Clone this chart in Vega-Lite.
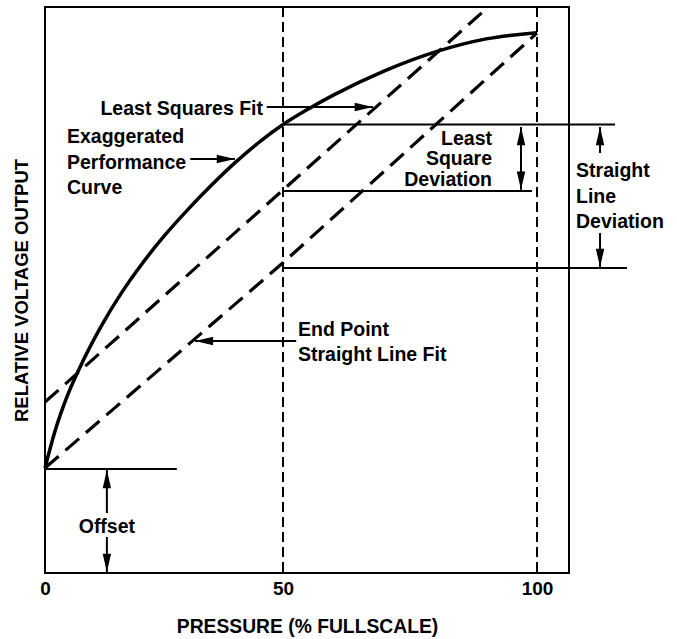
{
  "$schema": "https://vega.github.io/schema/vega-lite/v6.json",
  "width": 524,
  "height": 566,
  "autosize": {"type": "none"},
  "padding": {"left": 45, "top": 7, "right": 108, "bottom": 66},
  "background": "white",
  "config": {
    "view": {"stroke": "black", "strokeWidth": 2},
    "font": "Liberation Sans",
    "axis": {"grid": false, "ticks": false, "domain": false}
  },
  "datasets": {
    "curve": [
      {"x": 0, "y": 18.55}, {"x": 2, "y": 24.8}, {"x": 4, "y": 29.8},
      {"x": 8, "y": 37.5}, {"x": 12, "y": 43.9}, {"x": 16, "y": 49.4},
      {"x": 20, "y": 54.2}, {"x": 25, "y": 59.5}, {"x": 30, "y": 64.2},
      {"x": 35, "y": 68.54}, {"x": 40, "y": 72.54}, {"x": 45, "y": 76.12},
      {"x": 50, "y": 79.24}, {"x": 55, "y": 81.99}, {"x": 60, "y": 84.47},
      {"x": 70, "y": 88.72}, {"x": 80, "y": 92.07}, {"x": 90, "y": 94.37},
      {"x": 100, "y": 95.47}
    ],
    "fits": [
      {"fit": "End Point Straight Line Fit", "x": 0, "y": 18.55},
      {"fit": "End Point Straight Line Fit", "x": 50, "y": 54.8},
      {"fit": "End Point Straight Line Fit", "x": 100, "y": 95.4},
      {"fit": "Least Squares Fit", "x": 0, "y": 30.2},
      {"fit": "Least Squares Fit", "x": 50, "y": 67.67},
      {"fit": "Least Squares Fit", "x": 90.4, "y": 100}
    ],
    "verticals": [{"x": 50}, {"x": 100}],
    "segments": [
      {"x": 50, "y": 79.24, "x2": 124.4, "y2": 79.24},
      {"x": 50, "y": 67.49, "x2": 99.0, "y2": 67.49},
      {"x": 50, "y": 53.89, "x2": 128.1, "y2": 53.89},
      {"x": 0, "y": 18.37, "x2": 27.7, "y2": 18.37},
      {"x": 46.6, "y": 82.33, "x2": 67.7, "y2": 82.33},
      {"x": 30.5, "y": 73.14, "x2": 39.9, "y2": 73.14},
      {"x": 52.6, "y": 41.0, "x2": 31.5, "y2": 41.0},
      {"x": 96.85, "y": 78.8, "x2": 96.85, "y2": 67.7},
      {"x": 119.7, "y": 74.2, "x2": 119.7, "y2": 78.8},
      {"x": 119.7, "y": 60.07, "x2": 119.7, "y2": 54.06},
      {"x": 13, "y": 10.6, "x2": 13, "y2": 18.2},
      {"x": 13, "y": 6.36, "x2": 13, "y2": 0.18}
    ],
    "heads": [
      {"x": 67.7, "y": 82.33, "dir": "right"},
      {"x": 39.9, "y": 73.14, "dir": "right"},
      {"x": 31.5, "y": 41.0, "dir": "left"},
      {"x": 96.85, "y": 78.8, "dir": "up"},
      {"x": 96.85, "y": 67.7, "dir": "down"},
      {"x": 119.7, "y": 78.8, "dir": "up"},
      {"x": 119.7, "y": 54.06, "dir": "down"},
      {"x": 13, "y": 18.2, "dir": "up"},
      {"x": 13, "y": 0.18, "dir": "down"}
    ],
    "labelsLeft": [
      {"x": 4.62, "y": 77.03, "text": "Exaggerated"},
      {"x": 4.62, "y": 72.44, "text": "Performance"},
      {"x": 4.62, "y": 68.02, "text": "Curve"},
      {"x": 112.2, "y": 71.02, "text": "Straight"},
      {"x": 112.2, "y": 66.43, "text": "Line"},
      {"x": 112.2, "y": 62.01, "text": "Deviation"},
      {"x": 52.95, "y": 42.93, "text": "End Point"},
      {"x": 52.95, "y": 38.52, "text": "Straight Line Fit"}
    ],
    "labelsRight": [
      {"x": 45.8, "y": 81.98, "text": "Least Squares Fit"},
      {"x": 91.14, "y": 76.68, "text": "Least"},
      {"x": 91.14, "y": 73.06, "text": "Square"},
      {"x": 91.14, "y": 69.44, "text": "Deviation"}
    ],
    "labelsCenter": [
      {"x": 13, "y": 8.13, "text": "Offset"}
    ]
  },
  "layer": [
    {
      "data": {"name": "curve"},
      "mark": {"type": "line", "color": "black", "strokeWidth": 3.5, "interpolate": "monotone"},
      "encoding": {
        "x": {"field": "x", "type": "quantitative",
          "scale": {"domain": [0, 50, 100, 110], "range": [0, 238, 492, 524], "nice": false, "zero": false},
          "axis": {"values": [0, 50, 100], "labelFontSize": 19, "labelFontWeight": "bold", "labelColor": "black", "labelPadding": 6, "labelFlush": false,
            "title": "PRESSURE (% FULLSCALE)", "titleFontSize": 19.3, "titleFontWeight": "bold", "titleColor": "black", "titlePadding": 19}},
        "y": {"field": "y", "type": "quantitative",
          "scale": {"domain": [0, 100], "nice": false, "zero": false},
          "axis": {"labels": false, "title": "RELATIVE VOLTAGE OUTPUT", "titleFontSize": 18.5, "titleFontWeight": "bold", "titleColor": "black", "titlePadding": 14}}
      }
    },
    {
      "data": {"name": "fits"},
      "mark": {"type": "line", "color": "black", "strokeWidth": 3.2, "strokeDash": [18, 9]},
      "encoding": {
        "x": {"field": "x", "type": "quantitative", "scale": {"domain": [0, 50, 100, 110], "range": [0, 238, 492, 524], "nice": false, "zero": false}},
        "y": {"field": "y", "type": "quantitative", "scale": {"domain": [0, 100], "nice": false, "zero": false}},
        "detail": {"field": "fit", "type": "nominal"}
      }
    },
    {
      "data": {"name": "verticals"},
      "mark": {"type": "rule", "color": "black", "strokeWidth": 2, "strokeDash": [10, 5]},
      "encoding": {
        "x": {"field": "x", "type": "quantitative", "scale": {"domain": [0, 50, 100, 110], "range": [0, 238, 492, 524], "nice": false, "zero": false}}
      }
    },
    {
      "data": {"name": "segments"},
      "mark": {"type": "rule", "color": "black", "strokeWidth": 2},
      "encoding": {
        "x": {"field": "x", "type": "quantitative", "scale": {"domain": [0, 50, 100, 110], "range": [0, 238, 492, 524], "nice": false, "zero": false}},
        "y": {"field": "y", "type": "quantitative", "scale": {"domain": [0, 100], "nice": false, "zero": false}},
        "x2": {"field": "x2"},
        "y2": {"field": "y2"}
      }
    },
    {
      "data": {"name": "heads"},
      "mark": {"type": "point", "filled": true, "color": "black", "opacity": 1, "size": 196, "strokeWidth": 0},
      "encoding": {
        "x": {"field": "x", "type": "quantitative", "scale": {"domain": [0, 50, 100, 110], "range": [0, 238, 492, 524], "nice": false, "zero": false}},
        "y": {"field": "y", "type": "quantitative", "scale": {"domain": [0, 100], "nice": false, "zero": false}},
        "shape": {"field": "dir", "type": "nominal", "legend": null,
          "scale": {"domain": ["up", "down", "left", "right"],
            "range": ["M0,0L0.6,2.6L-0.6,2.6Z", "M0,0L0.6,-2.6L-0.6,-2.6Z", "M0,0L2.6,0.6L2.6,-0.6Z", "M0,0L-2.6,0.6L-2.6,-0.6Z"]}}
      }
    },
    {
      "data": {"name": "labelsLeft"},
      "mark": {"type": "text", "align": "left", "baseline": "middle", "fontSize": 19.5, "fontWeight": "bold", "color": "black"},
      "encoding": {
        "x": {"field": "x", "type": "quantitative", "scale": {"domain": [0, 50, 100, 110], "range": [0, 238, 492, 524], "nice": false, "zero": false}},
        "y": {"field": "y", "type": "quantitative", "scale": {"domain": [0, 100], "nice": false, "zero": false}},
        "text": {"field": "text"}
      }
    },
    {
      "data": {"name": "labelsRight"},
      "mark": {"type": "text", "align": "right", "baseline": "middle", "fontSize": 19.5, "fontWeight": "bold", "color": "black"},
      "encoding": {
        "x": {"field": "x", "type": "quantitative", "scale": {"domain": [0, 50, 100, 110], "range": [0, 238, 492, 524], "nice": false, "zero": false}},
        "y": {"field": "y", "type": "quantitative", "scale": {"domain": [0, 100], "nice": false, "zero": false}},
        "text": {"field": "text"}
      }
    },
    {
      "data": {"name": "labelsCenter"},
      "mark": {"type": "text", "align": "center", "baseline": "middle", "fontSize": 19.5, "fontWeight": "bold", "color": "black"},
      "encoding": {
        "x": {"field": "x", "type": "quantitative", "scale": {"domain": [0, 50, 100, 110], "range": [0, 238, 492, 524], "nice": false, "zero": false}},
        "y": {"field": "y", "type": "quantitative", "scale": {"domain": [0, 100], "nice": false, "zero": false}},
        "text": {"field": "text"}
      }
    }
  ]
}
